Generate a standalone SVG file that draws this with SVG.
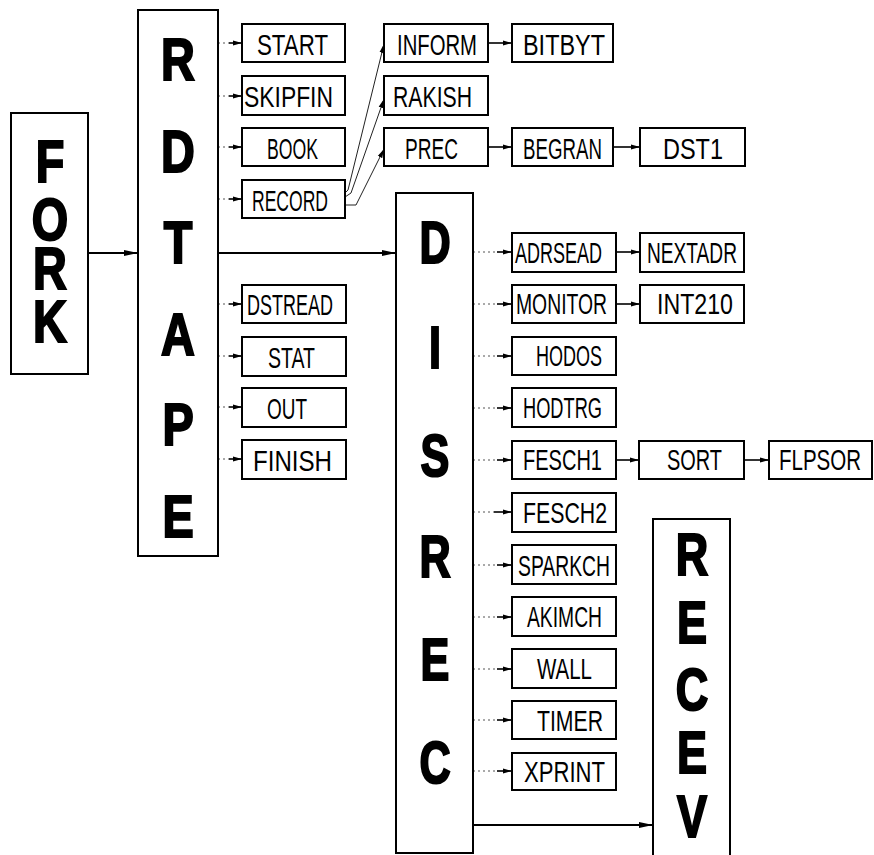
<svg xmlns="http://www.w3.org/2000/svg" width="874" height="855" viewBox="0 0 874 855">
<style>
.big{fill:#fff;stroke:#000;stroke-width:2}
.box{fill:#fff;stroke:#000;stroke-width:2}
.bl{font-family:"Liberation Sans",Arial,sans-serif;font-weight:bold;font-size:60px;fill:#000;stroke:#000;stroke-width:2.2;text-anchor:middle}
.lb{font-family:"Liberation Sans",Arial,sans-serif;font-size:30px;fill:#000}
.main{stroke:#000;stroke-width:2;fill:none}
.dot{stroke:#555;stroke-width:1;stroke-dasharray:2 3;fill:none}
.sh{stroke:#000;stroke-width:1.6;fill:none}
.thin{stroke:#222;stroke-width:1;fill:none}
</style>
<defs>
<marker id="big" markerUnits="userSpaceOnUse" markerWidth="14" markerHeight="8" refX="14" refY="4" orient="auto"><path d="M0,1 L14,4 L0,7 z" fill="#000"/></marker>
<marker id="sm" markerUnits="userSpaceOnUse" markerWidth="9" markerHeight="6" refX="9" refY="3" orient="auto"><path d="M0,0.5 L9,3 L0,5.5 z" fill="#000"/></marker>
</defs>
<g id="connectors">
<line class="main" x1="88" y1="253" x2="138" y2="253" marker-end="url(#big)"/>
<line class="main" x1="218" y1="253" x2="396" y2="253" marker-end="url(#big)"/>
<line class="main" x1="473" y1="825" x2="653" y2="825" marker-end="url(#big)"/>
<g>
<line class="dot" x1="218" y1="43" x2="229" y2="43"/><line class="sh" x1="229" y1="43" x2="242" y2="43" marker-end="url(#sm)"/>
<line class="dot" x1="218" y1="96" x2="229" y2="96"/><line class="sh" x1="229" y1="96" x2="242" y2="96" marker-end="url(#sm)"/>
<line class="dot" x1="218" y1="147" x2="229" y2="147"/><line class="sh" x1="229" y1="147" x2="242" y2="147" marker-end="url(#sm)"/>
<line class="dot" x1="218" y1="199" x2="229" y2="199"/><line class="sh" x1="229" y1="199" x2="242" y2="199" marker-end="url(#sm)"/>
<line class="dot" x1="218" y1="304" x2="229" y2="304"/><line class="sh" x1="229" y1="304" x2="242" y2="304" marker-end="url(#sm)"/>
<line class="dot" x1="218" y1="356" x2="229" y2="356"/><line class="sh" x1="229" y1="356" x2="242" y2="356" marker-end="url(#sm)"/>
<line class="dot" x1="218" y1="407" x2="229" y2="407"/><line class="sh" x1="229" y1="407" x2="242" y2="407" marker-end="url(#sm)"/>
<line class="dot" x1="218" y1="459" x2="229" y2="459"/><line class="sh" x1="229" y1="459" x2="242" y2="459" marker-end="url(#sm)"/>
</g>
<polyline class="thin" points="345,193 348,190 384,44" marker-end="url(#sm)"/>
<polyline class="thin" points="345,197 351,193 384,99" marker-end="url(#sm)"/>
<polyline class="thin" points="345,205 356,205 384,149" marker-end="url(#sm)"/>
<line class="sh" x1="488" y1="43" x2="512" y2="43" marker-end="url(#sm)"/>
<line class="sh" x1="488" y1="147" x2="512" y2="147" marker-end="url(#sm)"/>
<line class="sh" x1="613" y1="147" x2="640" y2="147" marker-end="url(#sm)"/>
<g>
<line class="dot" x1="473" y1="252" x2="497" y2="252"/><line class="sh" x1="497" y1="252" x2="512" y2="252" marker-end="url(#sm)"/>
<line class="dot" x1="473" y1="304" x2="497" y2="304"/><line class="sh" x1="497" y1="304" x2="512" y2="304" marker-end="url(#sm)"/>
<line class="dot" x1="473" y1="356" x2="497" y2="356"/><line class="sh" x1="497" y1="356" x2="512" y2="356" marker-end="url(#sm)"/>
<line class="dot" x1="473" y1="408" x2="497" y2="408"/><line class="sh" x1="497" y1="408" x2="512" y2="408" marker-end="url(#sm)"/>
<line class="dot" x1="473" y1="460" x2="497" y2="460"/><line class="sh" x1="497" y1="460" x2="512" y2="460" marker-end="url(#sm)"/>
<line class="dot" x1="473" y1="512" x2="494" y2="512"/><line class="sh" x1="494" y1="512" x2="512" y2="512" marker-end="url(#sm)"/>
<line class="dot" x1="473" y1="565" x2="497" y2="565"/><line class="sh" x1="497" y1="565" x2="512" y2="565" marker-end="url(#sm)"/>
<line class="dot" x1="473" y1="617" x2="497" y2="617"/><line class="sh" x1="497" y1="617" x2="512" y2="617" marker-end="url(#sm)"/>
<line class="dot" x1="473" y1="669" x2="497" y2="669"/><line class="sh" x1="497" y1="669" x2="512" y2="669" marker-end="url(#sm)"/>
<line class="dot" x1="473" y1="720" x2="497" y2="720"/><line class="sh" x1="497" y1="720" x2="512" y2="720" marker-end="url(#sm)"/>
<line class="dot" x1="473" y1="771" x2="497" y2="771"/><line class="sh" x1="497" y1="771" x2="512" y2="771" marker-end="url(#sm)"/>
</g>
<line class="sh" x1="616" y1="252" x2="640" y2="252" marker-end="url(#sm)"/>
<line class="sh" x1="616" y1="304" x2="640" y2="304" marker-end="url(#sm)"/>
<line class="sh" x1="616" y1="460" x2="639" y2="460" marker-end="url(#sm)"/>
<line class="sh" x1="744" y1="460" x2="769" y2="460" marker-end="url(#sm)"/>
</g>
<g id="FORK">
<rect class="big" x="11" y="113" width="77" height="261"/>
<g transform="translate(50,0) scale(0.78,1)"><text class="bl" x="0" y="182">F</text><text class="bl" x="0" y="240">O</text><text class="bl" x="0" y="289">R</text><text class="bl" x="0" y="342">K</text></g>
</g>
<g id="RDTAPE">
<rect class="big" x="138" y="10" width="80" height="546"/>
<g transform="translate(178,0) scale(0.78,1)"><text class="bl" x="0" y="80">R</text><text class="bl" x="0" y="172">D</text><text class="bl" x="0" y="263">T</text><text class="bl" x="0" y="355">A</text><text class="bl" x="0" y="445">P</text><text class="bl" x="0" y="537">E</text></g>
</g>
<g id="DISREC">
<rect class="big" x="396" y="193" width="77" height="660"/>
<g transform="translate(435,0) scale(0.72,1)"><text class="bl" x="0" y="263">D</text><text class="bl" x="0" y="368">I</text><text class="bl" x="0" y="476">S</text><text class="bl" x="0" y="577">R</text><text class="bl" x="0" y="680">E</text><text class="bl" x="0" y="783">C</text></g>
</g>
<g id="RECEV">
<rect class="big" x="653" y="519" width="77" height="345"/>
<g transform="translate(692,0) scale(0.75,1)"><text class="bl" x="0" y="575">R</text><text class="bl" x="0" y="643">E</text><text class="bl" x="0" y="710">C</text><text class="bl" x="0" y="773">E</text><text class="bl" x="0" y="837">V</text></g>
</g>
<g id="START"><rect class="box" x="242" y="24" width="103" height="38"/><text class="lb" x="257" y="55" textLength="71" lengthAdjust="spacingAndGlyphs">START</text></g>
<g id="SKIPFIN"><rect class="box" x="242" y="76" width="103" height="39"/><text class="lb" x="244" y="107" textLength="89" lengthAdjust="spacingAndGlyphs">SKIPFIN</text></g>
<g id="BOOK"><rect class="box" x="242" y="128" width="103" height="38"/><text class="lb" x="267" y="159" textLength="51" lengthAdjust="spacingAndGlyphs">BOOK</text></g>
<g id="RECORD"><rect class="box" x="242" y="180" width="103" height="38"/><text class="lb" x="252" y="211" textLength="76" lengthAdjust="spacingAndGlyphs">RECORD</text></g>
<g id="DSTREAD"><rect class="box" x="242" y="285" width="104" height="38"/><text class="lb" x="247" y="315" textLength="86" lengthAdjust="spacingAndGlyphs">DSTREAD</text></g>
<g id="STAT"><rect class="box" x="242" y="337" width="104" height="39"/><text class="lb" x="268" y="368" textLength="47" lengthAdjust="spacingAndGlyphs">STAT</text></g>
<g id="OUT"><rect class="box" x="242" y="388" width="104" height="39"/><text class="lb" x="267" y="419" textLength="40" lengthAdjust="spacingAndGlyphs">OUT</text></g>
<g id="FINISH"><rect class="box" x="242" y="440" width="104" height="39"/><text class="lb" x="253" y="471" textLength="79" lengthAdjust="spacingAndGlyphs">FINISH</text></g>
<g id="INFORM"><rect class="box" x="384" y="24" width="104" height="38"/><text class="lb" x="397" y="55" textLength="80" lengthAdjust="spacingAndGlyphs">INFORM</text></g>
<g id="RAKISH"><rect class="box" x="384" y="76" width="104" height="39"/><text class="lb" x="393" y="107" textLength="79" lengthAdjust="spacingAndGlyphs">RAKISH</text></g>
<g id="PREC"><rect class="box" x="384" y="128" width="104" height="38"/><text class="lb" x="405" y="159" textLength="53" lengthAdjust="spacingAndGlyphs">PREC</text></g>
<g id="BITBYT"><rect class="box" x="512" y="24" width="101" height="38"/><text class="lb" x="523" y="55" textLength="82" lengthAdjust="spacingAndGlyphs">BITBYT</text></g>
<g id="BEGRAN"><rect class="box" x="512" y="128" width="101" height="38"/><text class="lb" x="523" y="159" textLength="79" lengthAdjust="spacingAndGlyphs">BEGRAN</text></g>
<g id="DST1"><rect class="box" x="640" y="128" width="105" height="38"/><text class="lb" x="663" y="159" textLength="60" lengthAdjust="spacingAndGlyphs">DST1</text></g>
<g id="ADRSEAD"><rect class="box" x="512" y="233" width="104" height="39"/><text class="lb" x="515" y="263" textLength="87" lengthAdjust="spacingAndGlyphs">ADRSEAD</text></g>
<g id="NEXTADR"><rect class="box" x="640" y="233" width="104" height="39"/><text class="lb" x="647" y="263" textLength="90" lengthAdjust="spacingAndGlyphs">NEXTADR</text></g>
<g id="MONITOR"><rect class="box" x="512" y="285" width="104" height="38"/><text class="lb" x="516" y="314" textLength="91" lengthAdjust="spacingAndGlyphs">MONITOR</text></g>
<g id="INT210"><rect class="box" x="640" y="285" width="104" height="38"/><text class="lb" x="657" y="314" textLength="76" lengthAdjust="spacingAndGlyphs">INT210</text></g>
<g id="HODOS"><rect class="box" x="512" y="337" width="104" height="38"/><text class="lb" x="536" y="366" textLength="66" lengthAdjust="spacingAndGlyphs">HODOS</text></g>
<g id="HODTRG"><rect class="box" x="512" y="388" width="104" height="39"/><text class="lb" x="523" y="418" textLength="79" lengthAdjust="spacingAndGlyphs">HODTRG</text></g>
<g id="FESCH1"><rect class="box" x="512" y="441" width="104" height="38"/><text class="lb" x="523" y="470" textLength="79" lengthAdjust="spacingAndGlyphs">FESCH1</text></g>
<g id="SORT"><rect class="box" x="639" y="441" width="105" height="38"/><text class="lb" x="667" y="470" textLength="55" lengthAdjust="spacingAndGlyphs">SORT</text></g>
<g id="FLPSOR"><rect class="box" x="769" y="441" width="103" height="38"/><text class="lb" x="779" y="470" textLength="82" lengthAdjust="spacingAndGlyphs">FLPSOR</text></g>
<g id="FESCH2"><rect class="box" x="512" y="493" width="104" height="39"/><text class="lb" x="523" y="523" textLength="84" lengthAdjust="spacingAndGlyphs">FESCH2</text></g>
<g id="SPARKCH"><rect class="box" x="512" y="545" width="104" height="39"/><text class="lb" x="518" y="576" textLength="92" lengthAdjust="spacingAndGlyphs">SPARKCH</text></g>
<g id="AKIMCH"><rect class="box" x="512" y="597" width="104" height="39"/><text class="lb" x="527" y="627" textLength="75" lengthAdjust="spacingAndGlyphs">AKIMCH</text></g>
<g id="WALL"><rect class="box" x="512" y="649" width="104" height="39"/><text class="lb" x="537" y="679" textLength="55" lengthAdjust="spacingAndGlyphs">WALL</text></g>
<g id="TIMER"><rect class="box" x="512" y="701" width="104" height="38"/><text class="lb" x="537" y="731" textLength="66" lengthAdjust="spacingAndGlyphs">TIMER</text></g>
<g id="XPRINT"><rect class="box" x="512" y="753" width="104" height="37"/><text class="lb" x="524" y="782" textLength="81" lengthAdjust="spacingAndGlyphs">XPRINT</text></g>
</svg>
